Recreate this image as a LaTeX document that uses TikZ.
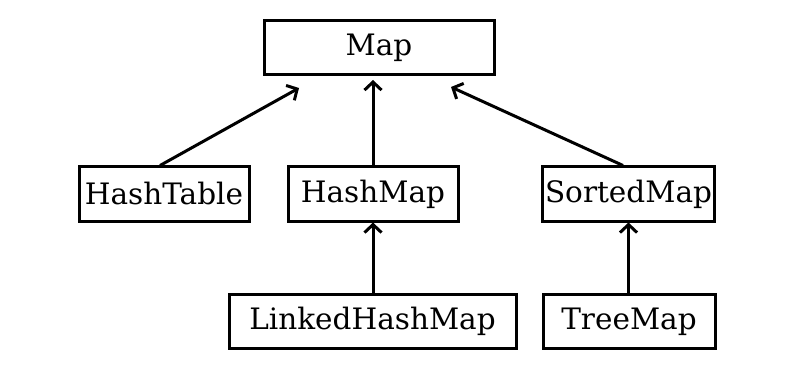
\documentclass[tikz,border=0pt]{standalone}
\usepackage{fontspec}
\setmainfont{DejaVu Serif}
\usetikzlibrary{arrows.meta}
\begin{document}
\begin{tikzpicture}[x=1pt,y=-1pt,
  cls/.style={draw,line width=3pt,minimum height=54pt,inner sep=3pt,font=\fontsize{29.5}{33}\selectfont},
  inh/.style={line width=3pt,-{Straight Barb[length=8pt,width=17pt,line width=3pt]}}]
\useasboundingbox (0,0) rectangle (789,374);
\node[cls,minimum width=230pt] (map) at (379,47.5) {Map};
\node[cls,minimum width=170pt] (ht) at (164,194) {HashTable};
\node[cls,minimum width=170pt] (hm) at (373,194) {HashMap};
\node[cls,minimum width=171pt] (sm) at (628.5,194) {SortedMap};
\node[cls,minimum width=287pt] (lhm) at (372.5,321.5) {LinkedHashMap};
\node[cls,minimum width=172pt] (tm) at (629,321.5) {TreeMap};
\coordinate (t1) at (299,88);
\coordinate (t2) at (373,80);
\coordinate (t3) at (451,87);
\draw[inh] (ht.north -| 160,0) -- (t1);
\draw[inh] (hm.north) -- (t2);
\draw[inh] (sm.north -| 623,0) -- (t3);
\draw[inh] (lhm.north -| hm.south) -- (hm.south);
\draw[inh] (tm.north -| sm.south) -- (sm.south);
\end{tikzpicture}
\end{document}
